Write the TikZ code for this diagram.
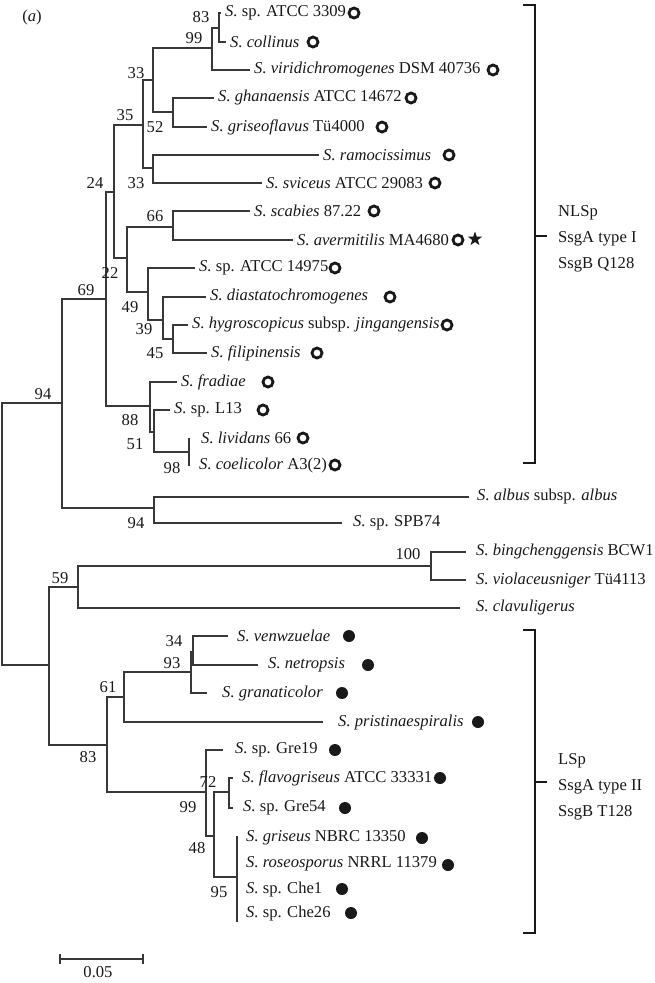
\documentclass[tikz,border=0pt]{standalone}
\usepackage{fontspec}
\setmainfont{Liberation Serif}
\usetikzlibrary{shapes.geometric}
\definecolor{TreeGray}{rgb}{0.22,0.22,0.22}
\definecolor{InkBlack}{rgb}{0.1,0.1,0.1}

\tikzset{
  branch/.style={draw=TreeGray, line width=1.2pt},
  leaf/.style={anchor=west, inner xsep=4pt, inner ysep=0pt},
  boot/.style={inner sep=0pt},
  ringmark/.style={circle, draw=InkBlack, line width=2.8pt, minimum size=10pt, inner sep=0pt},
  dotmark/.style={circle, fill=InkBlack, minimum size=12pt, inner sep=0pt},
  starmark/.style={star, star points=5, star point ratio=2.5, fill=InkBlack, minimum size=15pt, inner sep=0pt},
  clade/.style={draw=InkBlack, line width=2.6pt},
}

\begin{document}
\begin{tikzpicture}[x=1pt,y=1pt,yscale=-1,xscale=1, font=\fontsize{16.6}{21}\selectfont, text=InkBlack]
		\useasboundingbox (0,0) rectangle (655,983);

		% Panel letter
		\node (panel) at (32,18) {(\textit{a})};

		% Internal nodes of the tree (x of the split, y of its stem)
		\coordinate (root) at (2,534);
		\coordinate (n94a) at (62,403);
		\coordinate (n69) at (106,299);
		\coordinate (n24) at (114,192);
		\coordinate (n35) at (143,125);
		\coordinate (n33a) at (153,80);
		\coordinate (n99a) at (212,48);
		\coordinate (n83a) at (219,28);
		\coordinate (n52) at (173,112);
		\coordinate (n33b) at (153,168);
		\coordinate (n22) at (127,258);
		\coordinate (n66) at (173,227);
		\coordinate (n49) at (148,292);
		\coordinate (n39) at (163,320);
		\coordinate (n45) at (173,339);
		\coordinate (n88) at (150,406);
		\coordinate (n51) at (154,432);
		\coordinate (n98) at (189,452);
		\coordinate (n94b) at (154,508);
		\coordinate (nL) at (49,665);
		\coordinate (n59) at (78,587);
		\coordinate (n100) at (431,566);
		\coordinate (n83b) at (107,745);
		\coordinate (n61) at (124,697);
		\coordinate (n93) at (191,672);
		\coordinate (n34) at (193,652);
		\coordinate (n99b) at (206,792);
		\coordinate (n48) at (214,836);
		\coordinate (n72) at (229,792);
		\coordinate (n95) at (237,877);
		\coordinate (n95top) at (237,836);
		\coordinate (n95bot) at (237,922);

		% Leaves, NLSp clade
		\node[leaf] (sp3309) at (221,13) {\textit{S.} sp. ATCC 3309};
		\node[leaf] (collinus) at (226,42) {\textit{S. collinus}};
		\node[leaf] (viridi) at (250,70) {\textit{S. viridichromogenes} DSM 40736};
		\node[leaf] (ghana) at (214,98) {\textit{S. ghanaensis} ATCC 14672};
		\node[leaf] (grisflav) at (207,127) {\textit{S. griseoflavus} Tü4000};
		\node[leaf] (ramo) at (319,155) {\textit{S. ramocissimus}};
		\node[leaf] (svic) at (262,183) {\textit{S. sviceus} ATCC 29083};
		\node[leaf] (scab) at (250,211) {\textit{S. scabies} 87.22};
		\node[leaf] (averm) at (293,240) {\textit{S. avermitilis} MA4680};
		\node[leaf] (sp14975) at (195,268) {\textit{S.} sp. ATCC 14975};
		\node[leaf] (diast) at (206,297) {\textit{S. diastatochromogenes}};
		\node[leaf] (hygro) at (188,325) {\textit{S. hygroscopicus} subsp. \textit{jingangensis}};
		\node[leaf] (filip) at (207,353) {\textit{S. filipinensis}};
		\node[leaf] (fradiae) at (177,382) {\textit{S. fradiae}};
		\node[leaf] (spL13) at (170,410) {\textit{S.} sp. L13};
		\node[leaf, inner xsep=12pt] (livid) at (189,438) {\textit{S. lividans} 66};
		\node[leaf, inner xsep=10pt] (coeli) at (189,466) {\textit{S. coelicolor} A3(2)};

		% Leaves outside the two clades
		\node[leaf, inner xsep=8pt] (albus) at (469,497) {\textit{S. albus} subsp. \textit{albus}};
		\node[leaf, inner xsep=11pt] (spb74) at (342,523) {\textit{S.} sp. SPB74};
		\node[leaf, inner xsep=10pt] (bing) at (466,552) {\textit{S. bingchenggensis} BCW1};
		\node[leaf, inner xsep=10pt] (viol) at (466,580) {\textit{S. violaceusniger} Tü4113};
		\node[leaf, inner xsep=16pt] (clav) at (460,608) {\textit{S. clavuligerus}};

		% Leaves, LSp clade
		\node[leaf, inner xsep=9pt] (venw) at (228,636) {\textit{S. venwzuelae}};
		\node[leaf, inner xsep=10pt] (netrop) at (258,665) {\textit{S. netropsis}};
		\node[leaf, inner xsep=15pt] (granat) at (207,693) {\textit{S. granaticolor}};
		\node[leaf, inner xsep=15pt] (pristin) at (323,722) {\textit{S. pristinaespiralis}};
		\node[leaf, inner xsep=12pt] (gre19) at (223,750) {\textit{S.} sp. Gre19};
		\node[leaf, inner xsep=9pt] (flavog) at (233,778) {\textit{S. flavogriseus} ATCC 33331};
		\node[leaf, inner xsep=10pt] (gre54) at (233,808) {\textit{S.} sp. Gre54};
		\node[leaf, inner xsep=9pt] (griseus) at (237,838) {\textit{S. griseus} NBRC 13350};
		\node[leaf, inner xsep=9pt] (roseo) at (237,864) {\textit{S. roseosporus} NRRL 11379};
		\node[leaf, inner xsep=9pt] (che1) at (237,889) {\textit{S.} sp. Che1};
		\node[leaf, inner xsep=9pt] (che26) at (237,913) {\textit{S.} sp. Che26};

		% Branches
		\draw[branch] (root) |- (n94a);
		\draw[branch] (root) |- (nL);
		\draw[branch] (n94a) |- (n69);
		\draw[branch] (n94a) |- (n94b);
		\draw[branch] (n69) |- (n24);
		\draw[branch] (n69) |- (n88);
		\draw[branch] (n24) |- (n35);
		\draw[branch] (n24) |- (n22);
		\draw[branch] (n35) |- (n33a);
		\draw[branch] (n35) |- (n33b);
		\draw[branch] (n33a) |- (n99a);
		\draw[branch] (n33a) |- (n52);
		\draw[branch] (n99a) |- (n83a);
		\draw[branch] (n99a) |- (viridi.west);
		\draw[branch] (n83a) |- (sp3309.west);
		\draw[branch] (n83a) |- (collinus.west);
		\draw[branch] (n52) |- (ghana.west);
		\draw[branch] (n52) |- (grisflav.west);
		\draw[branch] (n33b) |- (ramo.west);
		\draw[branch] (n33b) |- (svic.west);
		\draw[branch] (n22) |- (n66);
		\draw[branch] (n22) |- (n49);
		\draw[branch] (n66) |- (scab.west);
		\draw[branch] (n66) |- (averm.west);
		\draw[branch] (n49) |- (sp14975.west);
		\draw[branch] (n49) |- (n39);
		\draw[branch] (n39) |- (diast.west);
		\draw[branch] (n39) |- (n45);
		\draw[branch] (n45) |- (hygro.west);
		\draw[branch] (n45) |- (filip.west);
		\draw[branch] (n88) |- (fradiae.west);
		\draw[branch] (n88) |- (n51);
		\draw[branch] (n51) |- (spL13.west);
		\draw[branch] (n51) |- (n98);
		\draw[branch] (n98) |- (livid.west);
		\draw[branch] (n98) |- (coeli.west);
		\draw[branch] (n94b) |- (albus.west);
		\draw[branch] (n94b) |- (spb74.west);
		\draw[branch] (nL) |- (n59);
		\draw[branch] (nL) |- (n83b);
		\draw[branch] (n59) |- (n100);
		\draw[branch] (n59) |- (clav.west);
		\draw[branch] (n100) |- (bing.west);
		\draw[branch] (n100) |- (viol.west);
		\draw[branch] (n83b) |- (n61);
		\draw[branch] (n83b) |- (n99b);
		\draw[branch] (n61) |- (n93);
		\draw[branch] (n61) |- (pristin.west);
		\draw[branch] (n93) |- (n34);
		\draw[branch] (n93) |- (granat.west);
		\draw[branch] (n34) |- (venw.west);
		\draw[branch] (n34) |- (netrop.west);
		\draw[branch] (n99b) |- (gre19.west);
		\draw[branch] (n99b) |- (n48);
		\draw[branch] (n48) |- (n72);
		\draw[branch] (n48) |- (n95);
		\draw[branch] (n72) |- (flavog.west);
		\draw[branch] (n72) |- (gre54.west);
		\draw[branch] (n95top) -- (n95bot);

		% Bootstrap values
		\node[boot] (b83a) at (201,17) {83};
		\node[boot] (b99a) at (194,38) {99};
		\node[boot] (b33a) at (136,73) {33};
		\node[boot] (b35) at (125,115) {35};
		\node[boot] (b52) at (155,127) {52};
		\node[boot] (b24) at (95,183) {24};
		\node[boot] (b33b) at (136,183) {33};
		\node[boot] (b66) at (155,216) {66};
		\node[boot] (b22) at (110,273) {22};
		\node[boot] (b69) at (86,290) {69};
		\node[boot] (b49) at (130,307) {49};
		\node[boot] (b39) at (144,329) {39};
		\node[boot] (b45) at (155,353) {45};
		\node[boot] (b94a) at (43,394) {94};
		\node[boot] (b88) at (130,420) {88};
		\node[boot] (b51) at (135,444) {51};
		\node[boot] (b98) at (172,468) {98};
		\node[boot] (b94b) at (136,523) {94};
		\node[boot] (b100) at (408,554) {100};
		\node[boot] (b59) at (60,578) {59};
		\node[boot] (b34) at (174,641) {34};
		\node[boot] (b93) at (172,663) {93};
		\node[boot] (b61) at (108,687) {61};
		\node[boot] (b83b) at (88,757) {83};
		\node[boot] (b72) at (208,782) {72};
		\node[boot] (b99b) at (188,807) {99};
		\node[boot] (b48) at (197,848) {48};
		\node[boot] (b95) at (219,892) {95};

		% Open rings, NLSp clade
		\node[ringmark] (r1) at (354,13) {};
		\node[ringmark] (r2) at (313,42) {};
		\node[ringmark] (r3) at (493,70) {};
		\node[ringmark] (r4) at (411,98) {};
		\node[ringmark] (r5) at (382,127) {};
		\node[ringmark] (r6) at (449,155) {};
		\node[ringmark] (r7) at (435,183) {};
		\node[ringmark] (r8) at (374,211) {};
		\node[ringmark] (r9) at (458,240) {};
		\node[starmark] (s9) at (475,239) {};
		\node[ringmark] (r10) at (335,268) {};
		\node[ringmark] (r11) at (390,297) {};
		\node[ringmark] (r12) at (447,325) {};
		\node[ringmark] (r13) at (317,353) {};
		\node[ringmark] (r14) at (268,382) {};
		\node[ringmark] (r15) at (263,410) {};
		\node[ringmark] (r16) at (303,438) {};
		\node[ringmark] (r17) at (335,465) {};

		% Filled dots, LSp clade
		\node[dotmark] (d1) at (349,636) {};
		\node[dotmark] (d2) at (368,665) {};
		\node[dotmark] (d3) at (342,693) {};
		\node[dotmark] (d4) at (478,722) {};
		\node[dotmark] (d5) at (335,750) {};
		\node[dotmark] (d6) at (440,778) {};
		\node[dotmark] (d7) at (345,808) {};
		\node[dotmark] (d8) at (422,838) {};
		\node[dotmark] (d9) at (448,865) {};
		\node[dotmark] (d10) at (342,889) {};
		\node[dotmark] (d11) at (351,913) {};

		% Clade brackets and their captions
		\draw[clade] (523,5) -- (535,5) -- (535,463) -- (523,463);
		\draw[clade] (535,236) -- (547,236);
		\node[anchor=west, inner sep=0pt, align=left, font=\fontsize{16.6}{26}\selectfont] (nlsp) at (558,239) {NLSp\\SsgA type I\\SsgB Q128};
		\draw[clade] (523,630) -- (535,630) -- (535,933) -- (523,933);
		\draw[clade] (535,782) -- (547,782);
		\node[anchor=west, inner sep=0pt, align=left, font=\fontsize{16.6}{26}\selectfont] (lsp) at (558,787) {LSp\\SsgA type II\\SsgB T128};

		% Scale bar
		\draw[branch] (60,959) -- (143,959);
		\draw[branch] (60,954) -- (60,964);
		\draw[branch] (143,954) -- (143,964);
		\node[boot] (scale) at (98,972) {0.05};
	\end{tikzpicture}
\end{document}
